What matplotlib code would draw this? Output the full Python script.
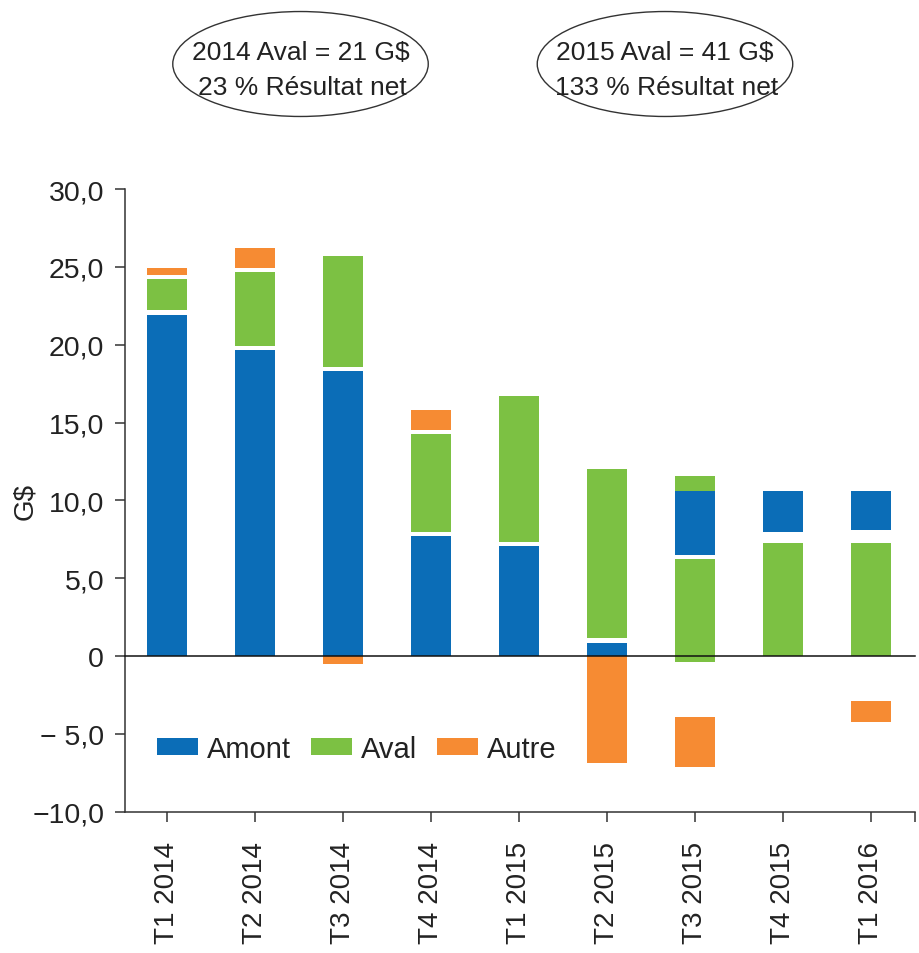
import numpy as np
import matplotlib
matplotlib.use("Agg")
import matplotlib.pyplot as plt
from matplotlib.patches import Ellipse

plt.rcParams['font.family'] = ['Liberation Sans', 'DejaVu Sans']

categories = ["T1 2014", "T2 2014", "T3 2014", "T4 2014", "T1 2015",
              "T2 2015", "T3 2015", "T4 2015", "T1 2016"]
nan = np.nan
# Floating segments (low, high) in G$
amont_low = [0, 0, 0, 0, 0, 0, 6.5, 7.95, 8.1]
amont_high = [21.9, 19.65, 18.3, 7.7, 7.05, 0.86, 10.62, 10.62, 10.62]
aval_low = [22.2, 19.9, 18.55, 7.95, 7.3, 1.15, -0.4, 0, 0]
aval_high = [24.25, 24.7, 25.7, 14.25, 16.7, 12.05, 6.25, 7.28, 7.28]
aval2_low = [nan, nan, nan, nan, nan, nan, 10.62, nan, nan]
aval2_high = [nan, nan, nan, nan, nan, nan, 11.55, nan, nan]
autre_low = [24.5, 24.9, -0.5, 14.5, nan, -6.85, -7.1, nan, -4.25]
autre_high = [24.9, 26.2, 0, 15.8, nan, 0, -3.9, nan, -2.87]

yticks = [-10, -5, 0, 5, 10, 15, 20, 25, 30]
ytick_labels = ["\u221210,0", "\u2212 5,0", "0", "5,0", "10,0", "15,0", "20,0", "25,0", "30,0"]

c_amont = "#0B6DB7"
c_aval = "#7CC143"
c_autre = "#F68B33"

fig = plt.figure(figsize=(9.19, 9.54), dpi=100)
ax = fig.add_axes([0.136, 0.148, 0.8596, 0.6528])

x = np.arange(len(categories))
w = 0.46

def seg(low, high, color, label=None):
    low = np.array(low, dtype=float)
    high = np.array(high, dtype=float)
    m = ~np.isnan(low)
    return ax.bar(x[m], (high - low)[m], bottom=low[m], width=w, color=color,
                  label=label, linewidth=0, zorder=2)

b1 = seg(amont_low, amont_high, c_amont, "Amont")
b2 = seg(aval_low, aval_high, c_aval, "Aval")
seg(aval2_low, aval2_high, c_aval)
b3 = seg(autre_low, autre_high, c_autre, "Autre")

ax.axhline(0, color="#111111", lw=1.1, zorder=3, clip_on=False)

ax.set_xlim(-0.477, 8.5)
ax.set_ylim(-10, 30)
ax.set_yticks(yticks)
ax.set_yticklabels(ytick_labels, fontsize=20.5, color="#222222")
ax.set_xticks(list(x) + [8.5])
ax.set_xticklabels(categories + [""], rotation=90, fontsize=20, color="#222222")
ax.tick_params(axis='y', length=7, width=1.1, pad=8, color="#333333")
ax.tick_params(axis='x', length=7, width=1.1, pad=14, color="#333333")
for s in ["top", "right"]:
    ax.spines[s].set_visible(False)
for s in ["left", "bottom"]:
    ax.spines[s].set_linewidth(1.1)
    ax.spines[s].set_color("#333333")

ax.set_ylabel("G$", fontsize=20, color="#222222")
ax.yaxis.set_label_coords(-0.110, 0.5)

leg = ax.legend(handles=[b1, b2, b3], loc="center left",
                bbox_to_anchor=(0.0405, 0.1007), ncol=3, frameon=False,
                fontsize=21, handlelength=1.4, handleheight=0.5,
                handletextpad=0.3, columnspacing=0.7, borderpad=0,
                borderaxespad=0)
for t in leg.get_texts():
    t.set_color("#222222")

# Annotation ellipses
for cx, l1, l2 in [(0.327, "2014 Aval = 21 G$", "23 % R\u00e9sultat net"),
                   (0.7236, "2015 Aval = 41 G$", "133 % R\u00e9sultat net")]:
    e = Ellipse((cx, 1 - 65 / 954), 0.278, 0.110, transform=fig.transFigure,
                fill=False, edgecolor="#333333", lw=1.0)
    fig.add_artist(e)
    fig.text(cx, 1 - 60 / 954, l1, ha="center", va="baseline", fontsize=19, color="#222222")
    fig.text(cx + 0.002, 1 - 95 / 954, l2, ha="center", va="baseline", fontsize=19, color="#222222")

fig.savefig("out.png", dpi=100)
